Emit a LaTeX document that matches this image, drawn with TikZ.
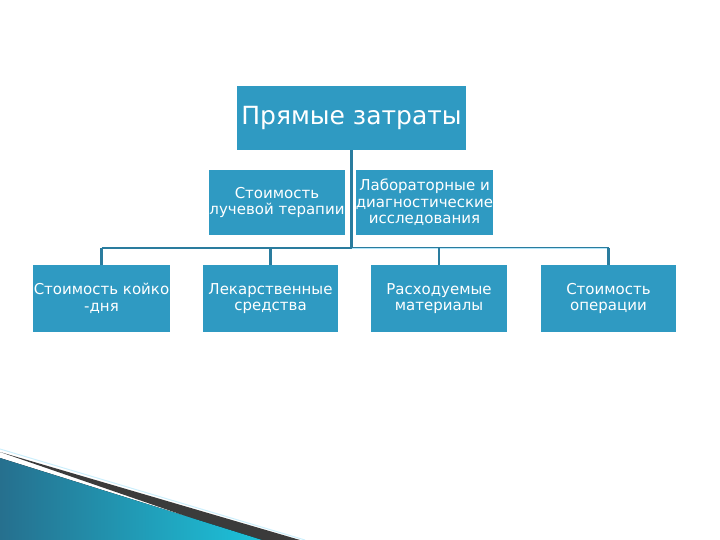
\documentclass[tikz,border=0pt]{standalone}
\usepackage{fontspec}
\setmainfont{DejaVu Sans}
\begin{document}
\begin{tikzpicture}[x=1pt,y=-1pt,
  box/.style={fill=boxc,text=white,inner sep=0pt,align=center,font=\fontsize{15}{16.5}\selectfont},
  conn/.style={draw=linec,line width=2.5pt}]
\definecolor{boxc}{HTML}{2F9AC2}
\definecolor{linec}{HTML}{2A7C9E}
\useasboundingbox (0,0) rectangle (720,540);
% decorative wedge
\fill[black!85,opacity=0.9] (0,452) -- (300,540) -- (255,540) -- cycle;
\fill[left color=linec!90!black,right color=boxc!60!cyan] (0,458) -- (262,540) -- (0,540) -- cycle;
\draw[cyan!20,line width=1pt] (0,449) -- (305,540);
% nodes
\node[box,minimum width=229,minimum height=64,font=\fontsize{25}{28}\selectfont] (top) at (351.5,118) {Прямые затраты};
\node[box,minimum width=136,minimum height=65] (ray) at (277,202.5) {Стоимость\\лучевой терапии};
\node[box,minimum width=135,minimum height=65] (lab) at (424.5,202.5) {Лабораторные и\\диагностические\\исследования};
\node[box,minimum width=137,minimum height=67] (b1) at (101.5,298.5) {Стоимость койко\\-дня};
\node[box,minimum width=135,minimum height=67] (b2) at (270.5,298.5) {Лекарственные\\средства};
\node[box,minimum width=136,minimum height=67] (b3) at (439,298.5) {Расходуемые\\материалы};
\node[box,minimum width=135,minimum height=67] (b4) at (608.5,298.5) {Стоимость\\операции};
\coordinate (hub) at (351.5,248);
\draw[conn] (top.south) -- (hub);
\draw[conn] (b1.north |- hub) -- (b4.north |- hub);
\draw[white!70!cyan,line width=0.6pt] (hub) -- ([xshift=-1pt]b4.north |- hub);
\foreach \b in {b1,b2,b3,b4} \draw[conn] (\b.north |- hub) -- (\b.north);
\end{tikzpicture}
\end{document}
